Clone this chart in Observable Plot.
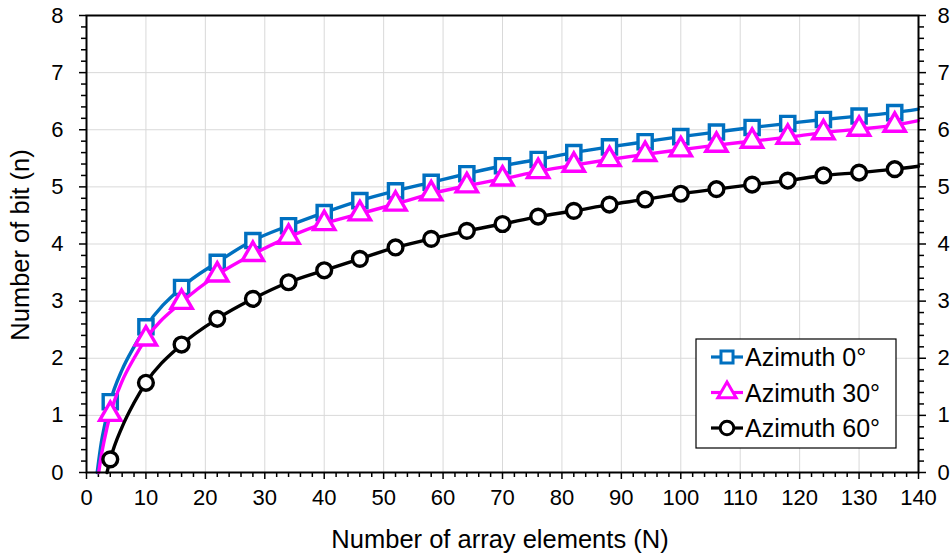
<!DOCTYPE html>
<html><head><meta charset="utf-8">
<script src="https://cdn.jsdelivr.net/npm/d3@7"></script>
<script src="https://cdn.jsdelivr.net/npm/@observablehq/plot@0.6"></script>
<style>
body{margin:0;background:#fff;font-family:"Liberation Sans",Arial,sans-serif;}
#chart{width:952px;height:554px;}
</style></head><body><div id="chart"></div>
<script>
// ---- data ----
const seriesNames = ["Azimuth 0°", "Azimuth 30°", "Azimuth 60°"];
const markerN = [4,10,16,22,28,34,40,46,52,58,64,70,76,82,88,94,100,106,112,118,124,130,136];
const az0  = [1.24,2.55,3.24,3.68,4.06,4.32,4.55,4.76,4.93,5.08,5.23,5.37,5.48,5.60,5.70,5.79,5.88,5.96,6.04,6.11,6.18,6.24,6.30];
const az30 = [1.02,2.34,2.98,3.46,3.82,4.12,4.36,4.53,4.70,4.88,5.02,5.14,5.27,5.38,5.48,5.57,5.65,5.73,5.80,5.87,5.95,6.01,6.08];
const az60 = [0.23,1.57,2.24,2.69,3.04,3.33,3.54,3.74,3.94,4.09,4.23,4.35,4.48,4.58,4.69,4.78,4.88,4.96,5.04,5.11,5.20,5.25,5.31];
// extra points (start at n=0, bend near origin, end at N=140)
const az0CurveN  = [1.8, 2.5, 3, 6, 8, 140];
const az0CurveV  = [0, 0.53, 0.80, 1.80, 2.20, 6.36];
const az30CurveN = [2.05, 2.5, 3, 6, 8, 140];
const az30CurveV = [0, 0.30, 0.57, 1.60, 2.00, 6.16];
const az60CurveN = [3.45, 6, 8, 140];
const az60CurveV = [0, 0.80, 1.22, 5.36];
const colors = ["#0070C0", "#FF00FF", "#000000"];
const symbols = ["square", "triangle", "circle"];
const xTicks = [0,10,20,30,40,50,60,70,80,90,100,110,120,130,140];
const xMinor = [2,4,6,8,12,14,16,18,22,24,26,28,32,34,36,38,42,44,46,48,52,54,56,58,62,64,66,68,72,74,76,78,82,84,86,88,92,94,96,98,102,104,106,108,112,114,116,118,122,124,126,128,132,134,136,138];
const yTicks = [0,1,2,3,4,5,6,7,8];
const yMinor = [0.2,0.4,0.6,0.8,1.2,1.4,1.6,1.8,2.2,2.4,2.6,2.8,3.2,3.4,3.6,3.8,4.2,4.4,4.6,4.8,5.2,5.4,5.6,5.8,6.2,6.4,6.6,6.8,7.2,7.4,7.6,7.8];
const xTitle = "Number of array elements (N)";
const yTitle = "Number of bit (n)";

const rows = (xs, ys) => xs.map((x, i) => ({N: x, n: ys[i]}));
const markerVals = [az0, az30, az60];
const curveN = [az0CurveN, az30CurveN, az60CurveN];
const curveV = [az0CurveV, az30CurveV, az60CurveV];

const seriesMarks = [];
markerVals.forEach((vals, k) => {
  const pts = rows(markerN, vals);
  const line = pts.concat(rows(curveN[k], curveV[k])).sort((a, b) => a.N - b.N);
  seriesMarks.push(Plot.line(line, {x: "N", y: "n", stroke: colors[k], strokeWidth: 3.4, curve: "monotone-x"}));
  seriesMarks.push(Plot.dot(pts, {x: "N", y: "n", symbol: symbols[k], r: symbols[k] === "triangle" ? 7.9 : (symbols[k] === "circle" ? 7.4 : 8),
    stroke: colors[k], strokeWidth: 3.4, fill: "white"}));
});

const font = "Liberation Sans, Arial, sans-serif";
const fmt = d => String(d);
const plot = Plot.plot({
  width: 952, height: 554,
  marginLeft: 86, marginRight: 34, marginTop: 15, marginBottom: 82,
  style: {fontFamily: font, color: "#000", background: "#fff", overflow: "visible"},
  x: {domain: [0, 140], label: null},
  y: {domain: [0, 8], label: null},
  marks: [
    Plot.gridX(xTicks, {stroke: "#d9d9d9", strokeOpacity: 1, strokeWidth: 1}),
    Plot.gridY(yTicks, {stroke: "#d9d9d9", strokeOpacity: 1, strokeWidth: 1}),
    Plot.axisX(xTicks, {anchor: "bottom", tickSize: 7, tickPadding: 10, fontSize: 22, strokeWidth: 1.5, label: null, tickFormat: fmt}),
    Plot.axisX(xMinor, {anchor: "bottom", tickSize: 5, text: null, strokeWidth: 1.5, label: null}),
    Plot.axisY(yTicks, {anchor: "left", tickSize: 7, tickPadding: 16, fontSize: 22, strokeWidth: 1.5, label: null, tickFormat: fmt}),
    Plot.axisY(yMinor, {anchor: "left", tickSize: 5, text: null, strokeWidth: 1.5, label: null}),
    Plot.axisY(yTicks, {anchor: "right", tickSize: 7, tickPadding: 12, fontSize: 22, strokeWidth: 1.5, label: null, tickFormat: fmt}),
    Plot.axisY(yMinor, {anchor: "right", tickSize: 5, text: null, strokeWidth: 1.5, label: null}),
    ...seriesMarks,
    Plot.frame({stroke: "#000", strokeWidth: 2})
  ]
});
document.getElementById("chart").appendChild(plot);

// axis titles and legend
const svg = d3.select(plot);
svg.append("text").attr("x", 500).attr("y", 548).attr("text-anchor", "middle")
  .attr("font-family", font).attr("font-size", 25.5).attr("fill", "#000").text(xTitle);
svg.append("text").attr("transform", "translate(29,245) rotate(-90)").attr("text-anchor", "middle")
  .attr("font-family", font).attr("font-size", 25.5).attr("fill", "#000").text(yTitle);

const lg = svg.append("g");
lg.append("rect").attr("x", 696).attr("y", 339).attr("width", 200).attr("height", 109)
  .attr("fill", "white").attr("stroke", "#000").attr("stroke-width", 1.2);
const symMap = {square: d3.symbolSquare, triangle: d3.symbolTriangle, circle: d3.symbolCircle};
const rowY = [357, 392.5, 428];
seriesNames.forEach((name, k) => {
  const y = rowY[k];
  lg.append("line").attr("x1", 711).attr("x2", 743).attr("y1", y).attr("y2", y)
    .attr("stroke", colors[k]).attr("stroke-width", 3.2);
  const r = 6.8;
  lg.append("path").attr("d", d3.symbol(symMap[symbols[k]], Math.PI * r * r)())
    .attr("transform", `translate(727,${y})`).attr("fill", "white").attr("stroke", colors[k]).attr("stroke-width", 3);
  lg.append("text").attr("x", 745).attr("y", y + 9).attr("text-anchor", "start").attr("font-family", font).attr("font-size", 25)
    .attr("fill", "#000").text(name);
});
</script>
</body></html>
